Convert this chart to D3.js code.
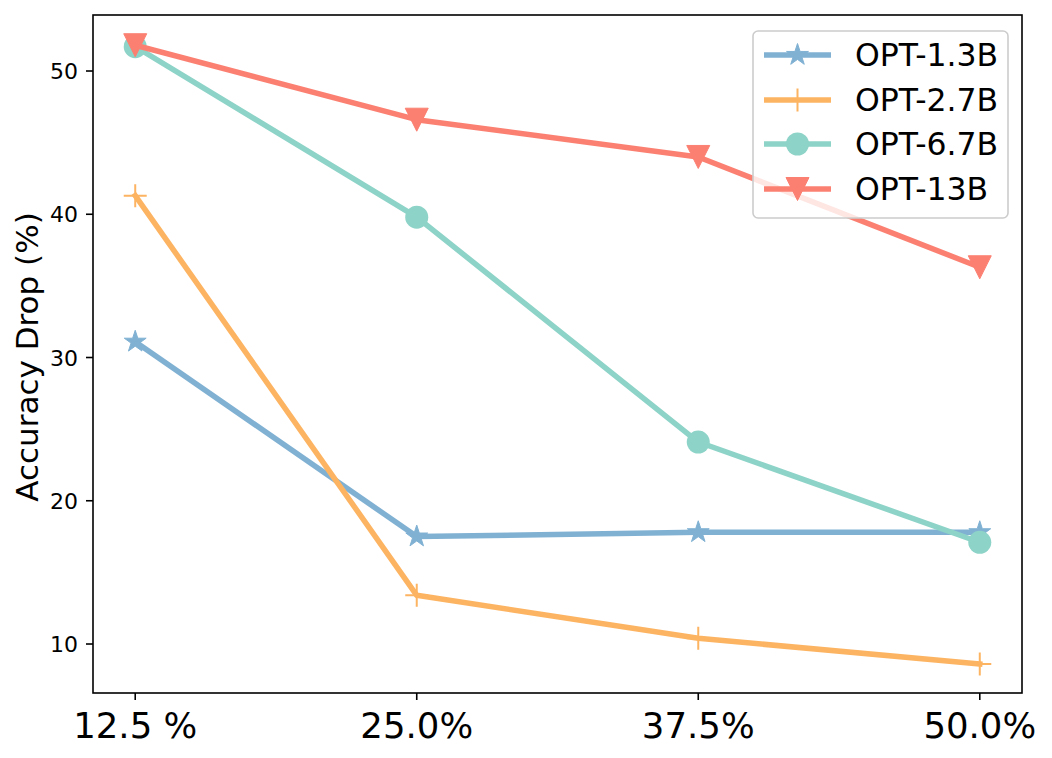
<!DOCTYPE html>
<html><head><meta charset="utf-8">
<script src="https://cdn.jsdelivr.net/npm/d3@7"></script>
<style>body{margin:0;background:#fff}svg{display:block}text{font-family:"DejaVu Sans",sans-serif;fill:#000}</style>
</head><body><svg id="c" width="1052" height="758"></svg>
<script>
const categories = ["12.5 %", "25.0%", "37.5%", "50.0%"];
const seriesNames = ["OPT-1.3B", "OPT-2.7B", "OPT-6.7B", "OPT-13B"];
const opt13 = [31.1, 17.5, 17.8, 17.8];
const opt27 = [41.3, 13.4, 10.4, 8.6];
const opt67 = [51.7, 39.8, 24.1, 17.1];
const opt13b = [51.8, 46.6, 44.0, 36.3];
const yTicks = [10, 20, 30, 40, 50];
const yLabel = "Accuracy Drop (%)";
const colors = ["#80b1d3", "#fdb462", "#8dd3c7", "#fb8072"];
const markers = ["star", "plus", "circle", "tri"];
const seriesValues = [opt13, opt27, opt67, opt13b];

const svg = d3.select("#c");
const L = 93, R = 1022, T = 15, B = 693;
const x = d3.scaleLinear().domain([-0.15, 3.15]).range([L, R]);
const y = d3.scaleLinear().domain([6.58, 53.91]).range([B, T]);

const ms = 23;
function markerPath(type) {
  const r = ms / 2;
  if (type === "star") {
    const pts = [];
    for (let i = 0; i < 10; i++) {
      const rr = i % 2 === 0 ? r : r * 0.381966;
      const a = -Math.PI / 2 + i * Math.PI / 5;
      pts.push([rr * Math.cos(a), rr * Math.sin(a)]);
    }
    return "M" + pts.map(p => p[0].toFixed(2) + "," + p[1].toFixed(2)).join("L") + "Z";
  }
  if (type === "tri") return `M${-r},${-r}L${r},${-r}L0,${r}Z`;
  if (type === "plus") return `M${-r},0L${r},0M0,${-r}L0,${r}`;
  return null;
}
function drawMarker(g, type, cx, cy, color) {
  if (type === "circle") {
    g.append("circle").attr("cx", cx).attr("cy", cy).attr("r", ms / 2).attr("fill", color);
  } else if (type === "plus") {
    g.append("path").attr("d", markerPath(type)).attr("transform", `translate(${cx},${cy})`)
      .attr("stroke", color).attr("stroke-width", 2).attr("fill", "none");
  } else {
    g.append("path").attr("d", markerPath(type)).attr("transform", `translate(${cx},${cy})`)
      .attr("fill", color).attr("stroke", color).attr("stroke-width", 1);
  }
}

const plot = svg.append("g");
const line = d3.line().x((d, i) => x(i)).y(d => y(d));
seriesValues.forEach((vals, si) => {
  const g = plot.append("g");
  g.append("path").datum(vals).attr("d", line).attr("fill", "none")
    .attr("stroke", colors[si]).attr("stroke-width", 5.5).attr("stroke-linejoin", "round").attr("stroke-linecap", "square");
  vals.forEach((v, i) => drawMarker(g, markers[si], x(i), y(v), colors[si]));
});

// axes box
svg.append("rect").attr("x", L).attr("y", T).attr("width", R - L).attr("height", B - T)
  .attr("fill", "none").attr("stroke", "#000").attr("stroke-width", 1.6);

// y ticks
const yg = svg.append("g");
yTicks.forEach(t => {
  yg.append("line").attr("x1", L).attr("x2", L - 7).attr("y1", y(t)).attr("y2", y(t)).attr("stroke", "#000").attr("stroke-width", 1.6);
  yg.append("text").attr("x", L - 15).attr("y", y(t) + 8).attr("text-anchor", "end").attr("font-size", 22).text(t);
});
// x ticks
const xg = svg.append("g");
categories.forEach((c, i) => {
  xg.append("line").attr("x1", x(i)).attr("x2", x(i)).attr("y1", B).attr("y2", B + 7).attr("stroke", "#000").attr("stroke-width", 1.6);
  xg.append("text").attr("x", x(i)).attr("y", 738).attr("text-anchor", "middle").attr("font-size", 35.5).text(c);
});
// y label
svg.append("text").attr("transform", "translate(38,357) rotate(-90)").attr("text-anchor", "middle")
  .attr("font-size", 31).text(yLabel);

// legend
const lg = svg.append("g");
lg.append("rect").attr("x", 753).attr("y", 31).attr("width", 255).attr("height", 187).attr("rx", 5)
  .attr("fill", "#fff").attr("fill-opacity", 0.8).attr("stroke", "#cccccc").attr("stroke-width", 1.6);
const rowY = [55, 100, 144, 189];
seriesNames.forEach((n, i) => {
  lg.append("line").attr("x1", 764).attr("x2", 831).attr("y1", rowY[i]).attr("y2", rowY[i])
    .attr("stroke", colors[i]).attr("stroke-width", 5.5);
  drawMarker(lg, markers[i], 797.5, rowY[i], colors[i]);
  lg.append("text").attr("x", 855).attr("y", rowY[i] + 11).attr("font-size", 31.5).text(n);
});
</script></body></html>
